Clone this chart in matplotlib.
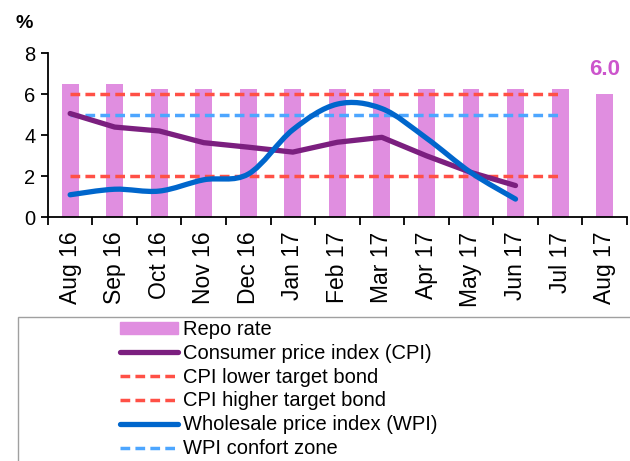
import numpy as np
import matplotlib
matplotlib.use("Agg")
import matplotlib.pyplot as plt
from matplotlib.path import Path
from matplotlib.patches import PathPatch, Rectangle
from matplotlib.lines import Line2D

plt.rcParams['font.family'] = ['Liberation Sans', 'DejaVu Sans']

months = ["Aug 16", "Sep 16", "Oct 16", "Nov 16", "Dec 16", "Jan 17", "Feb 17",
          "Mar 17", "Apr 17", "May 17", "Jun 17", "Jul 17", "Aug 17"]
repo = [6.5, 6.5, 6.25, 6.25, 6.25, 6.25, 6.25, 6.25, 6.25, 6.25, 6.25, 6.25, 6.0]
cpi = [5.05, 4.39, 4.20, 3.63, 3.41, 3.17, 3.65, 3.89, 2.99, 2.18, 1.54]
wpi = [1.09, 1.36, 1.27, 1.82, 2.10, 4.26, 5.51, 5.29, 3.85, 2.17, 0.88]
cpi_low = 2
cpi_high = 6
wpi_zone = 5
band_months = 12  # Aug 16 .. Jul 17

BAR = "#E08EE0"
CPI_C = "#7B1F7F"
WPI_C = "#0066CC"
RED = "#FF5046"
LBLUE = "#4DA6FF"


def smooth_path(xs, ys):
    # Excel-like smoothed line: Catmull-Rom segments as cubic Bezier
    pts = np.column_stack([xs, ys]).astype(float)
    verts = [pts[0]]
    codes = [Path.MOVETO]
    n = len(pts)
    for i in range(n - 1):
        p0 = pts[max(i - 1, 0)]
        p1 = pts[i]
        p2 = pts[i + 1]
        p3 = pts[min(i + 2, n - 1)]
        c1 = p1 + (p2 - p0) / 6.0
        c2 = p2 - (p3 - p1) / 6.0
        verts += [c1, c2, p2]
        codes += [Path.CURVE4] * 3
    return Path(verts, codes)


fig = plt.figure(figsize=(6.3, 4.61), dpi=100)
ax = fig.add_axes([0.076, 0.529, 0.919, 0.356])

x = np.arange(len(months))
ax.bar(x, repo, width=0.38, color=BAR, zorder=1)
ax.text(x[-1], repo[-1] + 0.7, f"{repo[-1]:.1f}", color="#CC55CC",
        fontsize=16, fontweight="bold", ha="center", va="bottom")

bx = np.arange(band_months)
dash = (0, (2.8, 1.5))
ax.plot(bx, [cpi_high] * band_months, color=RED, lw=2.5, linestyle=dash, zorder=2)
ax.plot(bx, [cpi_low] * band_months, color=RED, lw=2.5, linestyle=dash, zorder=2)
ax.plot(bx, [wpi_zone] * band_months, color=LBLUE, lw=2.5, linestyle=dash, zorder=2)

ax.plot(np.arange(len(cpi)), cpi, color=CPI_C, lw=3.8,
        solid_joinstyle="round", solid_capstyle="round", zorder=3)
ax.add_patch(PathPatch(smooth_path(np.arange(len(wpi)), wpi), facecolor="none",
                       edgecolor=WPI_C, lw=3.8, capstyle="round", zorder=4))

ax.set_xlim(-0.5, len(months) - 0.5)
ax.set_ylim(0, 8)
ax.set_yticks([0, 2, 4, 6, 8])
ax.set_xticks(x)
ax.set_xticklabels(months, rotation=90, fontsize=16.5)
ax.set_xticks(np.arange(-0.5, len(months)), minor=True)
ax.tick_params(axis="x", which="major", length=0, pad=10.5)
ax.tick_params(axis="x", which="minor", length=6, width=1.3, direction="out")
ax.tick_params(axis="y", length=5, width=1.3, labelsize=14.5, pad=4)
for s in ["top", "right"]:
    ax.spines[s].set_visible(False)
for s in ["left", "bottom"]:
    ax.spines[s].set_linewidth(1.3)

fig.text(16 / 630, 1 - 23 / 461, "%", fontsize=14, fontweight="bold",
         ha="left", va="center")

# legend box running off the bottom/right of the picture
fig.patches.append(Rectangle((18 / 630, -0.05), 1.0, 1 - 317 / 461 + 0.05,
                             transform=fig.transFigure, facecolor="white",
                             edgecolor="#A0A0A0", lw=1.0, zorder=0))

handles = [
    Rectangle((0, 0), 1, 1, color=BAR),
    Line2D([], [], color=CPI_C, lw=3.8, solid_capstyle="round"),
    Line2D([], [], color=RED, lw=2.5, linestyle=dash),
    Line2D([], [], color=RED, lw=2.5, linestyle=dash),
    Line2D([], [], color=WPI_C, lw=3.8, solid_capstyle="round"),
    Line2D([], [], color=LBLUE, lw=2.5, linestyle=dash),
]
labels = ["Repo rate", "Consumer price index (CPI)", "CPI lower target bond",
          "CPI higher target bond", "Wholesale price index (WPI)", "WPI confort zone"]
fig.legend(handles, labels, loc="upper left", bbox_to_anchor=(120 / 630, 1 - 320 / 461),
           frameon=False, fontsize=14.5, handlelength=2.9, handletextpad=0.25,
           labelspacing=0.24, borderpad=0, borderaxespad=0, handleheight=0.5)

fig.savefig("out.png", dpi=100)
